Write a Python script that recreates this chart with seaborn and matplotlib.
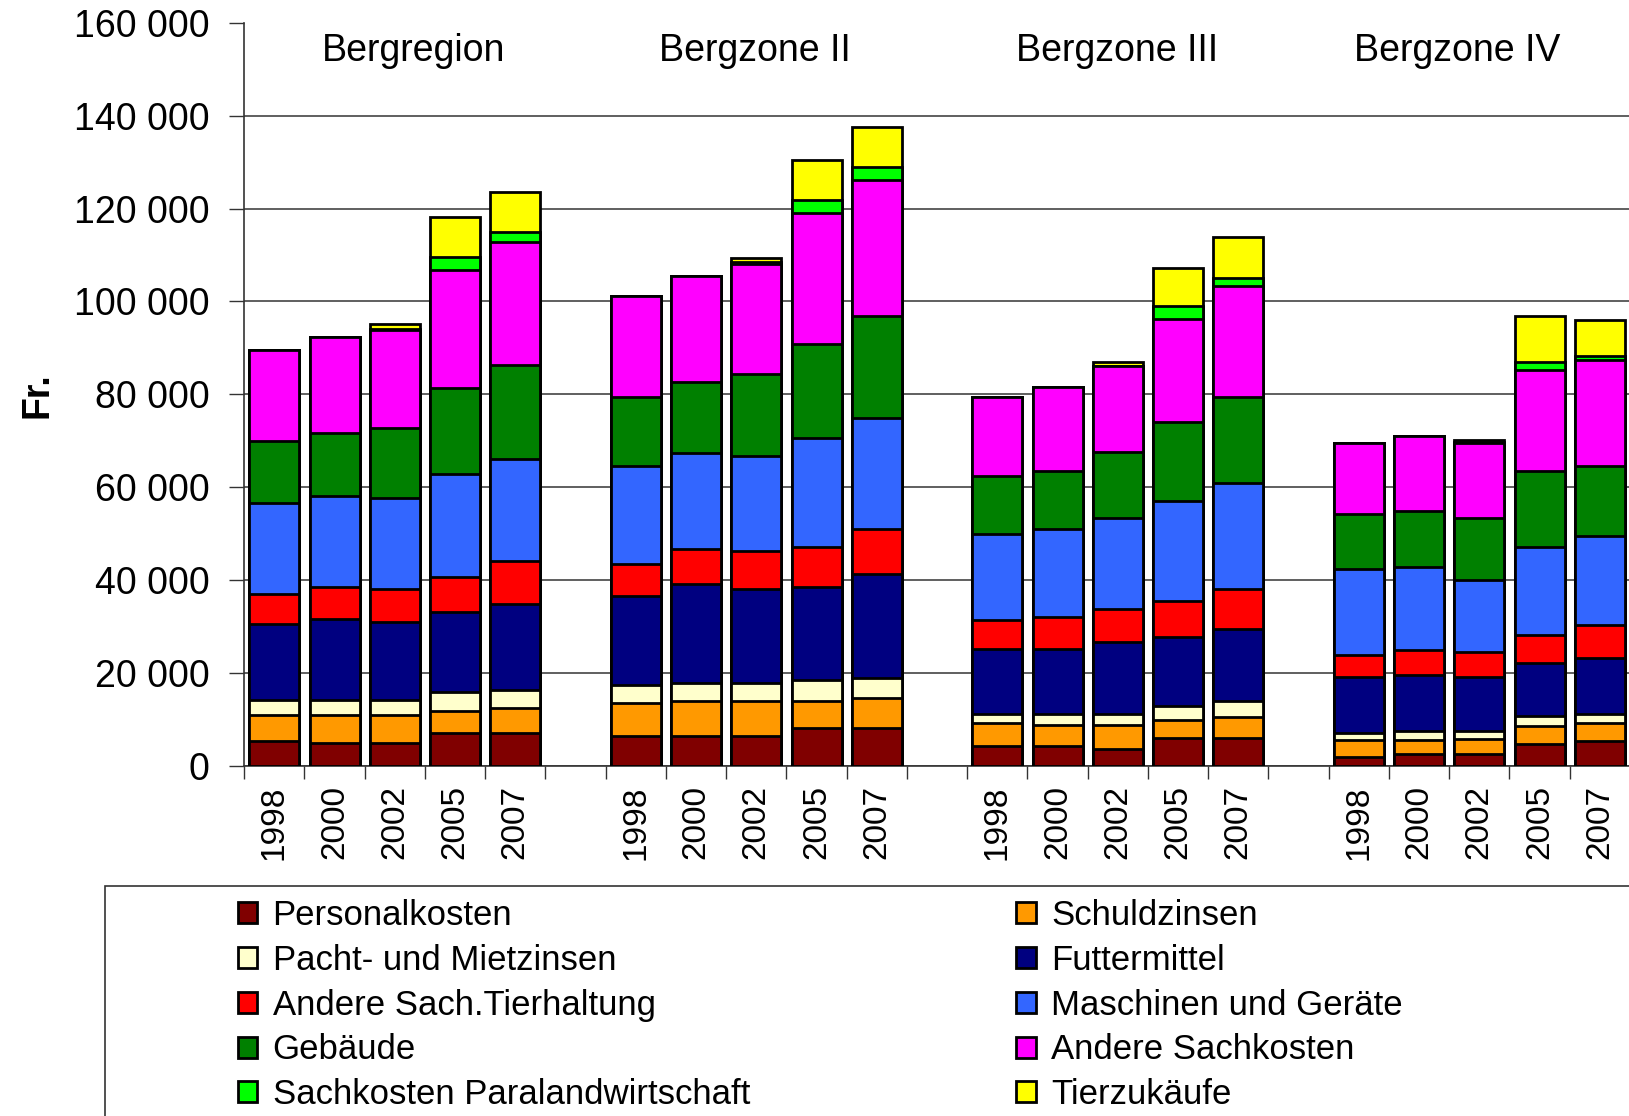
"""Fremdkosten je Betrieb nach Zonen (gestapelte Balken)."""
import numpy as np
import pandas as pd
import matplotlib
matplotlib.use('Agg')
import matplotlib.pyplot as plt
from matplotlib.patches import Patch, Rectangle
import seaborn as sns

groups = ['Bergregion', 'Bergzone II', 'Bergzone III', 'Bergzone IV']
years = ['1998', '2000', '2002', '2005', '2007']

# Werte in 1000 Fr., je 5 Jahre pro Zone
personalkosten = [5.3, 4.9, 4.9, 7.1, 7.1, 6.4, 6.4, 6.4, 8.1, 8.1, 4.2, 4.2, 3.6, 5.9, 5.9, 2.0, 2.6, 2.6, 4.7, 5.3]
schuldzinsen = [5.6, 6.0, 6.0, 4.8, 5.4, 7.1, 7.6, 7.6, 5.9, 6.4, 5.0, 4.5, 5.1, 3.9, 4.7, 3.5, 2.9, 3.2, 3.9, 3.9]
pacht = [3.3, 3.3, 3.3, 3.9, 3.8, 3.8, 3.8, 3.8, 4.4, 4.4, 2.0, 2.5, 2.5, 3.1, 3.4, 1.5, 2.1, 1.8, 2.2, 2.0]
futtermittel = [16.3, 17.4, 16.8, 17.4, 18.5, 19.2, 21.3, 20.3, 20.1, 22.4, 14.0, 14.0, 15.5, 14.9, 15.4, 12.1, 11.9, 11.5, 11.4, 12.0]
andere_tier = [6.5, 6.9, 7.0, 7.5, 9.2, 7.0, 7.5, 8.1, 8.7, 9.8, 6.3, 6.8, 7.0, 7.7, 8.6, 4.8, 5.5, 5.4, 5.9, 7.2]
maschinen = [19.5, 19.5, 19.6, 22.1, 22.1, 21.0, 20.8, 20.5, 23.5, 23.9, 18.5, 19.0, 19.6, 21.5, 22.9, 18.4, 17.9, 15.6, 19.1, 19.1]
gebaeude = [13.5, 13.6, 15.2, 18.5, 20.2, 15.0, 15.2, 17.6, 20.1, 21.8, 12.4, 12.5, 14.2, 17.1, 18.6, 11.9, 11.9, 13.2, 16.3, 15.1]
andere_sach = [19.5, 20.7, 21.0, 25.5, 26.5, 21.6, 22.9, 23.8, 28.3, 29.4, 17.0, 18.0, 18.5, 22.2, 23.9, 15.3, 16.2, 16.2, 21.8, 22.8]
paralandwirtschaft = [0, 0, 0.3, 2.7, 2.1, 0, 0, 0.3, 2.7, 2.8, 0, 0, 0.2, 2.7, 1.6, 0, 0, 0.2, 1.6, 0.9]
tierzukaeufe = [0, 0, 1.0, 8.8, 8.7, 0, 0, 0.9, 8.6, 8.6, 0, 0, 0.8, 8.2, 8.8, 0, 0, 0.4, 9.9, 7.8]

labels = ['Personalkosten', 'Schuldzinsen', 'Pacht- und Mietzinsen', 'Futtermittel',
          'Andere Sach.Tierhaltung', 'Maschinen und Geräte', 'Gebäude', 'Andere Sachkosten',
          'Sachkosten Paralandwirtschaft', 'Tierzukäufe']
series = [personalkosten, schuldzinsen, pacht, futtermittel, andere_tier, maschinen,
          gebaeude, andere_sach, paralandwirtschaft, tierzukaeufe]
colors = ['#800000', '#FF9900', '#FFFFCC', '#000080', '#FF0000', '#3366FF',
          '#008000', '#FF00FF', '#00FF00', '#FFFF00']


def main():
    pos = [6 * g + j for g in range(len(groups)) for j in range(len(years))]
    df = pd.DataFrame({'pos': pos})
    for lab, vals in zip(labels, series):
        df[lab] = np.array(vals) * 1000
    cum = df[labels].cumsum(axis=1)

    sns.set_theme(style='white')
    plt.rcParams['font.family'] = ['Liberation Sans', 'DejaVu Sans']
    plt.rcParams['text.color'] = 'black'
    plt.rcParams['xtick.color'] = 'black'
    plt.rcParams['ytick.color'] = 'black'

    fig = plt.figure(figsize=(16.29, 11.16), dpi=100)
    ax = fig.add_axes([0.1499, 0.3138, 1.0376 - 0.1499, 0.9795 - 0.3138])

    # gestapelt: kumulierte Summen von oben nach unten überlagern
    for lab, col in reversed(list(zip(labels, colors))):
        sns.barplot(x=df['pos'], y=cum[lab], native_scale=True, color=col, saturation=1,
                    width=0.83, errorbar=None, edgecolor='black', linewidth=2.0, ax=ax, zorder=3)

    ax.set_xlim(-0.5, 23.5)
    ax.set_ylim(0, 160000)
    ax.set_yticks(np.arange(0, 160001, 20000))
    ax.set_yticklabels([f'{v:,}'.replace(',', ' ') for v in range(0, 160001, 20000)], fontsize=27)
    ax.yaxis.grid(True, color='#444444', linewidth=1.2, zorder=0)
    ax.get_ygridlines()[-1].set_visible(False)
    ax.set_axisbelow(True)

    ax.set_xticks(pos)
    ax.set_xticklabels(years * len(groups), rotation=90, fontsize=24)
    ax.set_xticks(np.arange(-0.5, 24, 1), minor=True)
    ax.tick_params(axis='x', which='major', length=0, pad=14)
    ax.tick_params(axis='x', which='minor', length=9, width=1, color='#333333', direction='out', bottom=True)
    ax.tick_params(axis='y', length=11, width=1, color='#333333', direction='out', left=True, pad=14)
    ax.set_xlabel('')
    ax.set_ylabel('')
    for s in ['top', 'right']:
        ax.spines[s].set_visible(False)
    for s in ['left', 'bottom']:
        ax.spines[s].set_color('#333333')
        ax.spines[s].set_linewidth(1.2)

    title_x = [2.31, 7.97, 13.98, 19.64]
    for gx, name in zip(title_x, groups):
        ax.text(gx, 154000, name, ha='center', va='center', fontsize=27)

    fig.text(0.023, 0.646, 'Fr.', rotation=90, ha='center', va='center', fontsize=27, fontweight='bold')

    # Legende mit Rahmen, rechts und unten abgeschnitten
    fig.patches.append(Rectangle((0.0644, -0.1), 1.0, 0.3058, transform=fig.transFigure,
                                 fill=False, edgecolor='#333333', linewidth=1.2))
    handles = [Patch(facecolor=c, edgecolor='black', linewidth=2.0, label=l) for l, c in zip(labels, colors)]
    for k, xa in enumerate([0.146, 0.624]):
        fig.legend(handles=handles[k::2], loc='upper left', bbox_to_anchor=(xa, 0.1945),
                   frameon=False, fontsize=25, borderpad=0, borderaxespad=0,
                   handlelength=0.55, handleheight=0.55, handletextpad=0.45, labelspacing=0.34)

    fig.savefig('out.png', dpi=100)
    plt.close(fig)


if __name__ == '__main__':
    main()
